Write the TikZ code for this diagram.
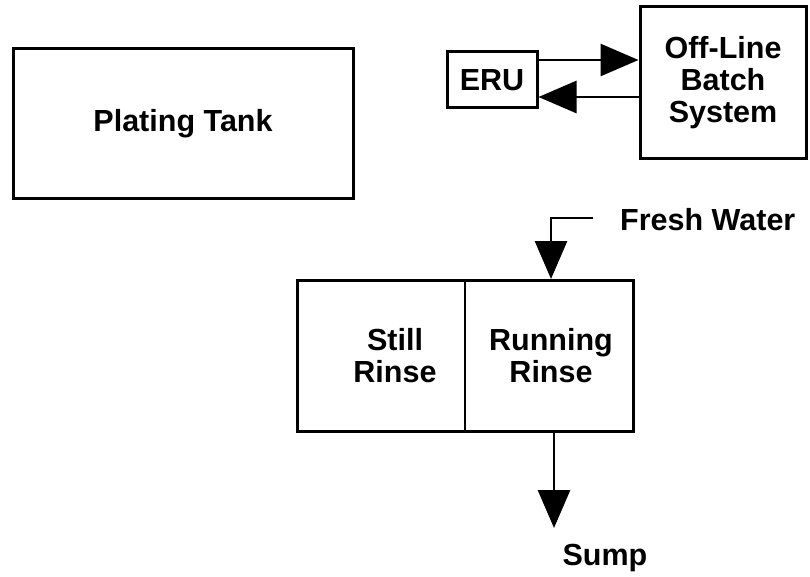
\documentclass[tikz,border=0pt]{standalone}
\usepackage{fontspec}
\setmainfont{Liberation Sans}
\usepackage{tikz}
\usetikzlibrary{arrows.meta,positioning,calc}
\tikzset{
  tankbox/.style={
    rectangle, draw=black, line width=3pt, fill=white,
    align=center, font=\bfseries\fontsize{30.5}{32}\selectfont, inner sep=0pt
  },
  tanklabel/.style={font=\bfseries\fontsize{30.5}{32}\selectfont, align=center, inner sep=0pt},
  flowarrow/.style={-{Triangle[length=38pt,width=32pt]}, line width=2.8pt, draw=black},
}

\begin{document}
\begin{tikzpicture}[x=1pt, y=-1pt]
  \useasboundingbox (0,0) rectangle (810,577);
  \node (tank) [tankbox, minimum width=340pt, minimum height=150pt] at (183,124) {Plating Tank};
  \node (eru) [tankbox, minimum width=90pt, minimum height=56pt] at (492,80) {ERU};
  \node (batch) [tankbox, minimum width=166pt, minimum height=152pt] at (723,83) {Off-Line\\Batch\\System};
  \node (rinse) [tankbox, minimum width=336pt, minimum height=151pt] at (465,356) {};
  \node (still) [tanklabel] at (395,356) {Still\\Rinse};
  \node (running) [tanklabel] at (551,356) {Running\\Rinse};
  \node (fresh) [tanklabel, anchor=west] at (620,220) {Fresh Water};
  \node (sump) [tanklabel] at (605,558) {Sump};
  \coordinate (fwin) at (593,218);
  \coordinate (sumpin) at (554,528);
  \draw[line width=2.4pt] (rinse.north) -- (rinse.south);
  \draw[flowarrow] ([yshift=20pt]eru.east) -- ([yshift=20pt]eru.east -| batch.west);
  \draw[flowarrow] ([yshift=-17pt]eru.east -| batch.west) -- ([yshift=-17pt]eru.east);
  \draw[flowarrow] (fwin) -| (running |- rinse.north);
  \draw[flowarrow] (sumpin |- rinse.south) -- (sumpin);
\end{tikzpicture}
\end{document}
